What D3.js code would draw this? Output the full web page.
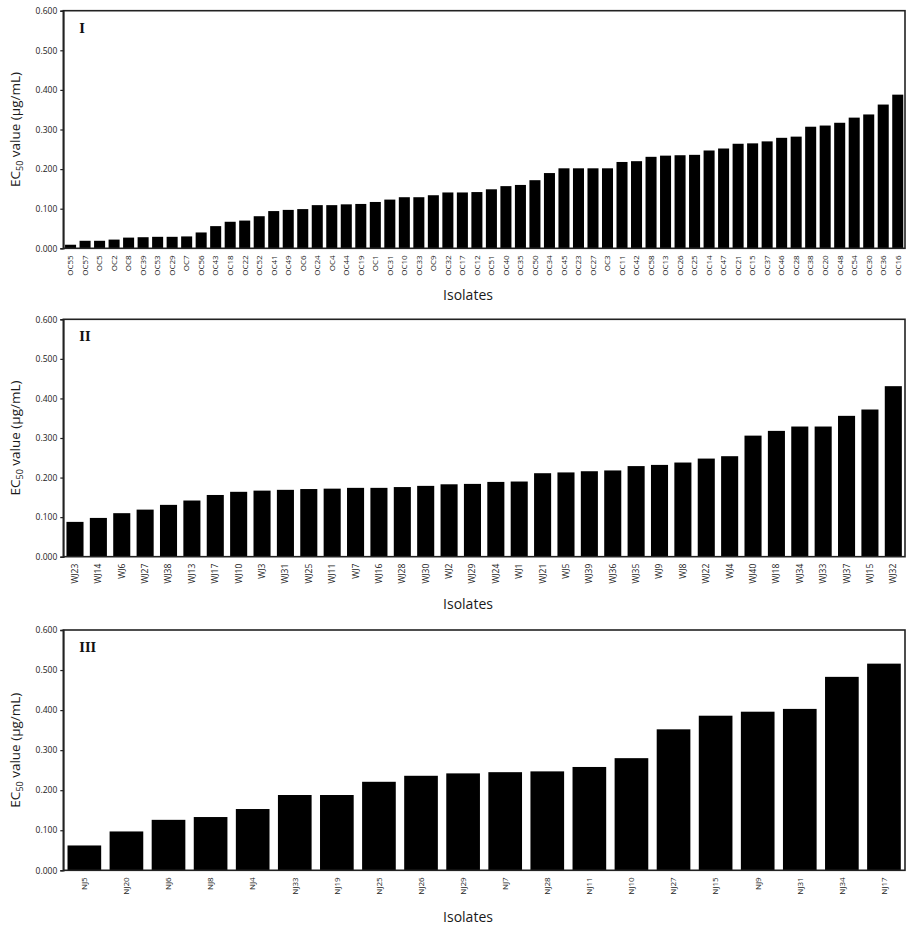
<!DOCTYPE html>
<html><head><meta charset="utf-8">
<script src="https://cdn.jsdelivr.net/npm/d3@7"></script>
<style>body{margin:0;background:#fff}svg{display:block}</style>
</head><body>
<svg id="c" width="914" height="933"></svg>
<script>
const isolatesI = ["OC55","OC57","OC5","OC2","OC8","OC39","OC53","OC29","OC7","OC56","OC43","OC18","OC22","OC52","OC41","OC49","OC6","OC24","OC4","OC44","OC19","OC1","OC31","OC10","OC33","OC9","OC32","OC17","OC12","OC51","OC40","OC35","OC50","OC34","OC45","OC23","OC27","OC3","OC11","OC42","OC58","OC13","OC26","OC25","OC14","OC47","OC21","OC15","OC37","OC46","OC28","OC38","OC20","OC48","OC54","OC30","OC36","OC16"];
const valuesI = [0.009,0.019,0.019,0.022,0.027,0.028,0.029,0.029,0.030,0.040,0.056,0.067,0.070,0.081,0.094,0.097,0.099,0.109,0.109,0.111,0.112,0.117,0.123,0.129,0.129,0.134,0.141,0.141,0.142,0.149,0.157,0.160,0.172,0.190,0.202,0.202,0.202,0.202,0.218,0.220,0.231,0.234,0.235,0.236,0.247,0.252,0.264,0.265,0.270,0.279,0.282,0.307,0.310,0.317,0.330,0.338,0.363,0.388];
const isolatesII = ["WJ23","WJ14","WJ6","WJ27","WJ38","WJ13","WJ17","WJ10","WJ3","WJ31","WJ25","WJ11","WJ7","WJ16","WJ28","WJ30","WJ2","WJ29","WJ24","WJ1","WJ21","WJ5","WJ39","WJ36","WJ35","WJ9","WJ8","WJ22","WJ4","WJ40","WJ18","WJ34","WJ33","WJ37","WJ15","WJ32"];
const valuesII = [0.088,0.098,0.110,0.119,0.131,0.142,0.156,0.164,0.167,0.169,0.171,0.172,0.174,0.174,0.176,0.179,0.183,0.184,0.189,0.190,0.211,0.213,0.216,0.218,0.229,0.232,0.238,0.248,0.254,0.306,0.318,0.329,0.329,0.356,0.372,0.431];
const isolatesIII = ["NJ5","NJ20","NJ6","NJ8","NJ4","NJ33","NJ19","NJ25","NJ26","NJ29","NJ7","NJ28","NJ11","NJ10","NJ27","NJ15","NJ9","NJ31","NJ34","NJ17"];
const valuesIII = [0.062,0.097,0.126,0.133,0.153,0.188,0.188,0.221,0.236,0.242,0.245,0.247,0.258,0.280,0.352,0.386,0.396,0.403,0.483,0.516];
const panelLabels = ["I","II","III"];
const yTicks = [0,0.1,0.2,0.3,0.4,0.5,0.6];
const xTitle = "Isolates";

const svg = d3.select("#c");
const font = "'Open Sans', 'Noto Sans', sans-serif";
const panels = [
  {names: isolatesI, vals: valuesI, top: 10.7, bottom: 248.3, pad: 0.24, fs: 8},
  {names: isolatesII, vals: valuesII, top: 319.3, bottom: 556.7, pad: 0.27, fs: 8.5},
  {names: isolatesIII, vals: valuesIII, top: 630, bottom: 870.3, pad: 0.2, fs: 8}
];
const left = 63.3, right = 905;

panels.forEach((p, i) => {
  const x = d3.scaleBand().domain(p.names).range([left, right]).paddingInner(p.pad).paddingOuter(p.pad/2);
  const y = d3.scaleLinear().domain([0, 0.6]).range([p.bottom, p.top]);
  const g = svg.append("g");

  g.selectAll("rect.bar").data(p.vals).join("rect").attr("class","bar")
    .attr("x", (d, j) => x(p.names[j]))
    .attr("width", x.bandwidth())
    .attr("y", d => y(d))
    .attr("height", d => y(0) - y(d))
    .attr("fill", "#000");

  g.append("rect").attr("x", left).attr("y", p.top).attr("width", right - left).attr("height", p.bottom - p.top)
    .attr("fill", "none").attr("stroke", "#222").attr("stroke-width", 1.6);

  const ya = g.append("g").attr("transform", `translate(${left},0)`)
    .call(d3.axisLeft(y).tickValues(yTicks).tickFormat(d3.format(".3f")).tickSize(3).tickPadding(3));
  ya.select(".domain").attr("stroke", "#222").attr("stroke-width", 1.6);
  ya.selectAll(".tick line").attr("stroke", "#222").attr("stroke-width", 1.2);
  ya.selectAll("text").attr("font-family", font).attr("font-size", 8.5).attr("fill", "#1a1a1a");

  const xa = g.append("g").attr("transform", `translate(0,${p.bottom})`)
    .call(d3.axisBottom(x).tickSize(0).tickPadding(0));
  xa.select(".domain").remove();
  xa.selectAll("text").attr("font-family", font).attr("font-size", p.fs).attr("fill", "#1a1a1a")
    .attr("transform", "rotate(-90)").attr("text-anchor", "end")
    .attr("x", -7).attr("y", 0).attr("dy", "0.35em");

  g.append("text").attr("x", left + 16).attr("y", p.top + 22)
    .attr("font-family", "'DejaVu Serif', 'Liberation Serif', serif").attr("font-weight", "bold")
    .attr("font-size", 12).attr("fill", "#111").text(panelLabels[i]);

  const cy = (p.top + p.bottom) / 2;
  const t = g.append("text").attr("transform", `translate(20,${cy}) rotate(-90)`)
    .attr("text-anchor", "middle").attr("font-family", font).attr("font-size", 13.5).attr("fill", "#1a1a1a");
  t.append("tspan").text("EC");
  t.append("tspan").attr("font-size", 9).attr("dy", 3).text("50");
  t.append("tspan").attr("dy", -3).text(" value (µg/mL)");

  g.append("text").attr("x", 468).attr("y", p.bottom + 52).attr("text-anchor", "middle")
    .attr("font-family", font).attr("font-size", 14).attr("fill", "#1a1a1a").text(xTitle);
});
</script>
</body></html>
